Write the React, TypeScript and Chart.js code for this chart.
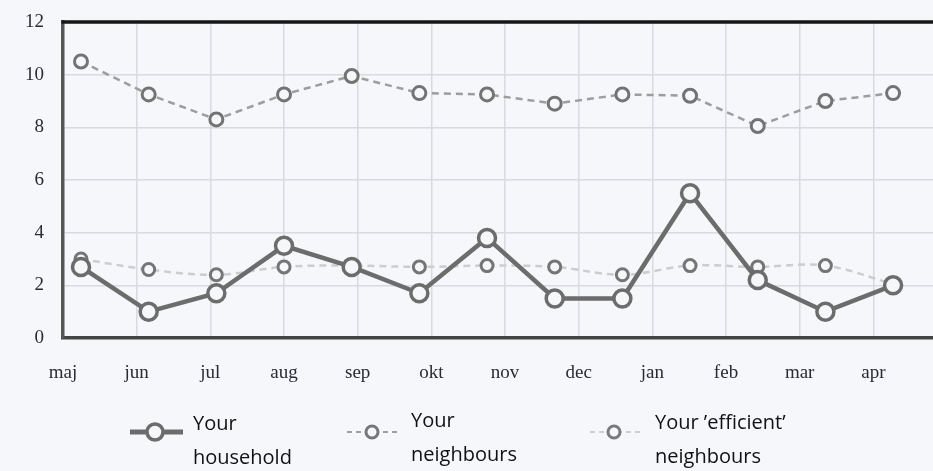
import React, { useEffect, useRef } from "react";
import { Chart, registerables } from "chart.js";

Chart.register(...registerables);

const months = ["maj", "jun", "jul", "aug", "sep", "okt", "nov", "dec", "jan", "feb", "mar", "apr"];
const household = [2.7, 1.0, 1.7, 3.5, 2.7, 1.7, 3.8, 1.5, 1.5, 5.5, 2.2, 1.0, 2.0];
const neighbours = [10.5, 9.25, 8.3, 9.25, 9.95, 9.3, 9.25, 8.9, 9.25, 9.2, 8.05, 9.0, 9.3];
const efficient = [3.0, 2.6, 2.4, 2.7, 2.75, 2.7, 2.75, 2.7, 2.4, 2.75, 2.7, 2.75, 2.05];
const yTicks = [0, 2, 4, 6, 8, 10, 12];

const BG = "#f5f7fb";
const FG = "#2a2a33";

const toPoints = (arr: number[]) => arr.map((v, i) => ({ x: i, y: v }));

const zeroPad = (s: any) => {
  s.paddingLeft = 0;
  s.paddingRight = 0;
  s.paddingTop = 0;
  s.paddingBottom = 0;
};

function drawSample(ctx: CanvasRenderingContext2D, x0: number, x1: number, y: number, cx: number, r: number, lw: number, lineColor: string, dash: number[], pw: number, pc: string) {
  ctx.save();
  ctx.strokeStyle = lineColor;
  ctx.lineWidth = lw;
  ctx.setLineDash(dash);
  ctx.beginPath();
  ctx.moveTo(x0, y);
  ctx.lineTo(x1, y);
  ctx.stroke();
  ctx.setLineDash([]);
  ctx.beginPath();
  ctx.arc(cx, y, r, 0, Math.PI * 2);
  ctx.fillStyle = BG;
  ctx.fill();
  ctx.lineWidth = pw;
  ctx.strokeStyle = pc;
  ctx.stroke();
  ctx.restore();
}

const framePlugin = {
  id: "frame",
  beforeDraw(chart: any) {
    const { ctx, width, height } = chart;
    ctx.save();
    ctx.fillStyle = BG;
    ctx.fillRect(0, 0, width, height);
    ctx.restore();
  },
  afterDraw(chart: any) {
    const { ctx, chartArea } = chart;
    ctx.save();
    ctx.strokeStyle = "#161616";
    ctx.lineWidth = 3.5;
    ctx.beginPath();
    ctx.moveTo(chartArea.left - 1.5, chartArea.top);
    ctx.lineTo(chartArea.right, chartArea.top);
    ctx.stroke();
    ctx.restore();
    drawSample(ctx, 130, 183, 432, 155, 8, 5, "#6c6c6c", [], 3.5, "#6c6c6c");
    drawSample(ctx, 347, 397, 432, 372, 6, 2, "#a0a0a0", [5, 4], 3, "#777");
    drawSample(ctx, 590, 640, 432, 614, 6, 2, "#cfcfcf", [5, 4], 3, "#7a7a7a");
  },
};

export default function App() {
  const ref = useRef<HTMLCanvasElement | null>(null);
  useEffect(() => {
    if (!ref.current) return;
    const chart = new Chart(ref.current, {
      type: "line",
      data: {
        datasets: [
          {
            label: "Your 'efficient' neighbours",
            data: toPoints(efficient),
            borderColor: "#cdcdcd",
            borderWidth: 2.5,
            borderDash: [7, 5],
            tension: 0.35,
            pointRadius: 6,
            pointBorderWidth: 3,
            pointBorderColor: "#757575",
            pointBackgroundColor: BG,
            order: 3,
          },
          {
            label: "Your neighbours",
            data: toPoints(neighbours),
            borderColor: "#9d9d9d",
            borderWidth: 2.5,
            borderDash: [7, 5],
            tension: 0,
            pointRadius: 6.5,
            pointBorderWidth: 3,
            pointBorderColor: "#737373",
            pointBackgroundColor: BG,
            order: 2,
          },
          {
            label: "Your household",
            data: toPoints(household),
            borderColor: "#6c6c6c",
            borderWidth: 4.5,
            tension: 0,
            pointRadius: 8.5,
            pointBorderWidth: 3.5,
            pointBorderColor: "#6c6c6c",
            pointBackgroundColor: BG,
            order: 1,
          },
        ],
      },
      options: {
        animation: false,
        responsive: false,
        maintainAspectRatio: false,
        layout: { autoPadding: false, padding: { left: 0, right: 0, top: 22, bottom: 83 } },
        plugins: { legend: { display: false }, tooltip: { enabled: false } },
        scales: {
          x: {
            type: "linear",
            display: false,
            min: -0.266,
            max: 12.59,
            afterFit: zeroPad,
          },
          x2: {
            type: "linear",
            position: "bottom",
            min: 0,
            max: 11.81,
            afterBuildTicks: (s: any) => {
              s.ticks = months.map((_, i) => ({ value: i }));
            },
            afterFit: (s: any) => {
              s.height = 50;
              zeroPad(s);
            },
            ticks: {
              callback: (v: any) => months[Math.round(v)] ?? "",
              color: FG,
              font: { family: "'Liberation Serif', 'DejaVu Serif', serif", size: 19 },
              padding: 24,
              maxRotation: 0,
              autoSkip: false,
            },
            grid: { color: "#d8dae0", lineWidth: 1.5, drawTicks: false },
            border: { color: "#444", width: 3.5 },
          },
          y: {
            min: 0,
            max: 12,
            afterBuildTicks: (s: any) => {
              s.ticks = yTicks.map((v) => ({ value: v }));
            },
            afterFit: (s: any) => {
              s.width = 63;
              zeroPad(s);
            },
            ticks: {
              color: FG,
              font: { family: "'Liberation Serif', 'DejaVu Serif', serif", size: 19 },
              padding: 19,
            },
            grid: { color: "#d8dae0", lineWidth: 1.5, drawTicks: false },
            border: { color: "#555", width: 3.5 },
          },
        },
      },
      plugins: [framePlugin],
    } as any);
    return () => chart.destroy();
  }, []);

  const txt: React.CSSProperties = {
    position: "absolute",
    fontFamily: "'Open Sans', 'Noto Sans', sans-serif",
    fontSize: 20,
    lineHeight: "34px",
    color: "#111",
    whiteSpace: "nowrap",
  };

  return (
    <div style={{ position: "fixed", left: 0, top: 0, width: 933, height: 471, background: BG, overflow: "hidden" }}>
      <canvas ref={ref} width={933} height={471} style={{ position: "absolute", left: 0, top: 0 }} />
      <div style={{ ...txt, left: 193, top: 406 }}>Your<br />household</div>
      <div style={{ ...txt, left: 411, top: 403 }}>Your<br />neighbours</div>
      <div style={{ ...txt, left: 655, top: 405 }}>Your ’efficient’<br />neighbours</div>
    </div>
  );
}
